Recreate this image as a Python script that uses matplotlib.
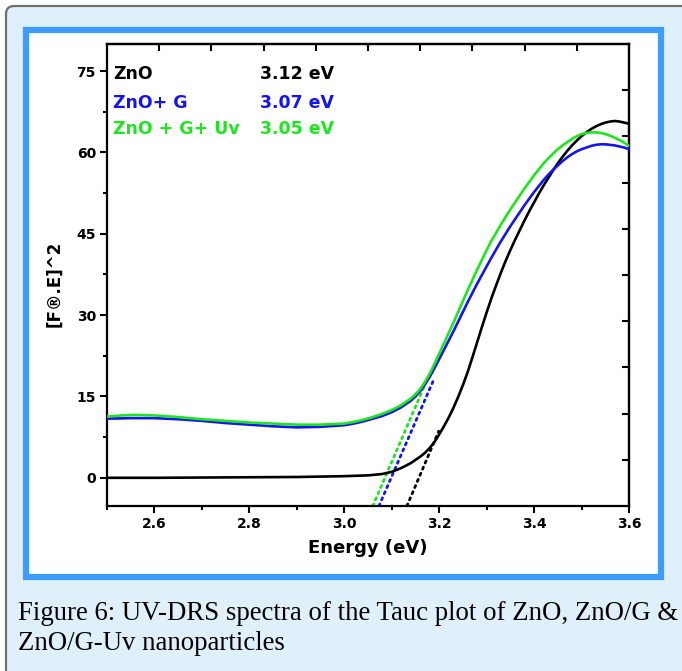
import matplotlib
matplotlib.use("Agg")
import matplotlib.pyplot as plt
from matplotlib.patches import FancyBboxPatch, Rectangle
import numpy as np

# ---------------- data ----------------
zno_x = [2.50, 2.60, 2.70, 2.80, 2.90, 3.00, 3.05, 3.08, 3.10, 3.12, 3.14, 3.16, 3.17,
         3.18, 3.19, 3.20, 3.21, 3.22, 3.23, 3.24, 3.25, 3.26, 3.27, 3.28, 3.29, 3.30,
         3.31, 3.32, 3.33, 3.34, 3.35, 3.36, 3.37, 3.38, 3.39, 3.40, 3.41, 3.42,
         3.43, 3.44, 3.45, 3.46, 3.47, 3.48, 3.49, 3.50, 3.51, 3.52, 3.53, 3.54,
         3.55, 3.56, 3.57, 3.58, 3.59, 3.60]
zno_y = [0.0, 0.0, 0.05, 0.1, 0.15, 0.3, 0.45, 0.7, 1.1, 1.8, 2.7, 3.9, 4.6,
         5.5, 6.6, 8.0, 9.5, 11.1, 12.9, 14.9, 17.1, 19.5, 22.2, 25.0, 27.8, 30.5,
         33.1, 35.5, 37.8, 40.0, 42.0, 43.9, 45.7, 47.5, 49.2, 50.8, 52.4, 53.9,
         55.3, 56.7, 58.0, 59.2, 60.3, 61.3, 62.2, 63.0, 63.7, 64.3, 64.8, 65.2,
         65.5, 65.7, 65.8, 65.7, 65.5, 65.3]

zng_x = [2.50, 2.55, 2.60, 2.65, 2.70, 2.75, 2.80, 2.85, 2.90, 2.95, 3.00, 3.02, 3.04,
         3.06, 3.08, 3.10, 3.12, 3.14, 3.15, 3.16, 3.17, 3.18, 3.19, 3.20, 3.21,
         3.22, 3.23, 3.24, 3.25, 3.26, 3.27, 3.28, 3.29, 3.30, 3.31, 3.32, 3.33,
         3.34, 3.35, 3.36, 3.37, 3.38, 3.39, 3.40, 3.41, 3.42, 3.43, 3.44, 3.45,
         3.46, 3.47, 3.48, 3.49, 3.50, 3.51, 3.52, 3.53, 3.54, 3.55, 3.56, 3.57,
         3.58, 3.59, 3.60]
zng_y = [10.9, 11.0, 11.0, 10.8, 10.5, 10.1, 9.8, 9.5, 9.3, 9.4, 9.7, 10.0, 10.4,
         10.9, 11.4, 12.1, 13.0, 14.2, 15.0, 16.0, 17.2, 18.6, 20.2, 21.9, 23.6,
         25.3, 27.0, 28.8, 30.6, 32.4, 34.1, 35.8, 37.4, 39.0, 40.6, 42.1, 43.6,
         45.0, 46.4, 47.7, 49.0, 50.3, 51.5, 52.7, 53.8, 54.9, 55.9, 56.8, 57.6,
         58.4, 59.1, 59.7, 60.2, 60.6, 60.9, 61.2, 61.4, 61.5, 61.5, 61.4, 61.3,
         61.1, 60.9, 60.6]

zngu_x = [2.50, 2.53, 2.56, 2.60, 2.65, 2.70, 2.75, 2.80, 2.85, 2.90, 2.95, 3.00, 3.02,
          3.04, 3.06, 3.08, 3.10, 3.12, 3.14, 3.15, 3.16, 3.17, 3.18, 3.19, 3.20,
          3.21, 3.22, 3.23, 3.24, 3.25, 3.26, 3.27, 3.28, 3.29, 3.30, 3.31, 3.32,
          3.33, 3.34, 3.35, 3.36, 3.37, 3.38, 3.39, 3.40, 3.41, 3.42, 3.43, 3.44,
          3.45, 3.46, 3.47, 3.48, 3.49, 3.50, 3.51, 3.52, 3.53, 3.54, 3.55, 3.56,
          3.57, 3.58, 3.59, 3.60]
zngu_y = [11.3, 11.5, 11.6, 11.5, 11.2, 10.8, 10.5, 10.2, 10.0, 9.8, 9.8, 10.0, 10.3,
          10.7, 11.2, 11.8, 12.5, 13.4, 14.6, 15.4, 16.4, 17.7, 19.2, 21.0, 22.9,
          24.8, 26.7, 28.6, 30.6, 32.6, 34.6, 36.5, 38.4, 40.2, 42.0, 43.7, 45.2,
          46.7, 48.1, 49.5, 50.8, 52.1, 53.4, 54.6, 55.8, 56.9, 58.0, 58.9, 59.8,
          60.6, 61.3, 61.9, 62.5, 63.0, 63.4, 63.6, 63.7, 63.7, 63.6, 63.4, 63.1,
          62.7, 62.3, 61.8, 61.2]

# tangent (extrapolation) lines: start/end points
tan_x0 = [3.132, 3.073, 3.060]
tan_y0 = [-5.2, -5.2, -5.2]
tan_x1 = [3.199, 3.188, 3.174]
tan_y1 = [8.6, 18.0, 18.0]

labels = ["ZnO", "ZnO+ G", "ZnO + G+ Uv"]
gaps = ["3.12 eV", "3.07 eV", "3.05 eV"]
colors = ["#000000", "#1414f0", "#1ee61e"]

xticks = [2.6, 2.8, 3.0, 3.2, 3.4, 3.6]
yticks = [0, 15, 30, 45, 60, 75]

caption_lines = ["Figure 6: UV-DRS spectra of the Tauc plot of ZnO, ZnO/G &",
                 "ZnO/G-Uv nanoparticles"]

# ---------------- figure ----------------
W, H = 682, 671
fig = plt.figure(figsize=(W / 100, H / 100), dpi=100)
fig.patch.set_facecolor("white")

# outer rounded box (extends past right and bottom edges)
outer = FancyBboxPatch((6 / W, -1.0), 2.0, 2.0 - 6 / H,
                       boxstyle="round,pad=0,rounding_size=0.012",
                       transform=fig.transFigure, facecolor="#e0f0fb",
                       edgecolor="#707070", linewidth=1.6, zorder=-3)
fig.patches.append(outer)
# blue framed white panel
frame = Rectangle((26 / W, (H - 577) / H), (661 - 26) / W, (577 - 30) / H,
                  transform=fig.transFigure, facecolor="white",
                  edgecolor="#3f9cff", linewidth=4.5, zorder=-2)
fig.patches.append(frame)

ax = fig.add_axes([107 / W, (H - 506) / H, 522 / W, 462 / H])
ax.set_facecolor("none")

x_lo, x_hi = 2.5, 3.6
y_lo, y_hi = -5.2, 80.0

for i in range(3):
    ax.plot([tan_x0[i], tan_x1[i]], [tan_y0[i], tan_y1[i]], color=colors[i],
            lw=2.0, linestyle=(0, (0.8, 1.6)), dash_capstyle="round", zorder=2)

for xs, ys, c in [(zno_x, zno_y, colors[0]), (zng_x, zng_y, colors[1]),
                  (zngu_x, zngu_y, colors[2])]:
    ax.plot(xs, ys, color=c, lw=1.9, solid_capstyle="round",
            solid_joinstyle="round", zorder=3)

ax.set_xlim(x_lo, x_hi)
ax.set_ylim(y_lo, y_hi)

ax.set_xticks(xticks)
ax.set_xticklabels([f"{v:.1f}" for v in xticks])
ax.set_xticks(np.arange(2.5, 3.6, 0.2), minor=True)
ax.set_yticks(yticks)
ax.set_yticklabels([str(v) for v in yticks])
ax.set_yticks(np.arange(7.5, 76, 15), minor=True)

ax.tick_params(axis="both", which="major", direction="out", length=5, width=1.5,
               labelsize=10, pad=3)
ax.tick_params(axis="both", which="minor", direction="out", length=3, width=1.5)
for lab in ax.get_xticklabels() + ax.get_yticklabels():
    lab.set_fontweight("bold")

for s in ax.spines.values():
    s.set_linewidth(1.6)

# top and right axes: 10 even divisions, inward ticks
top = ax.secondary_xaxis("top", functions=(lambda v: (v - x_lo) / (x_hi - x_lo) * 10,
                                           lambda t: x_lo + t / 10 * (x_hi - x_lo)))
top.set_xticks(range(1, 10))
top.tick_params(direction="in", length=5, width=1.5, labeltop=False)
top.spines["top"].set_linewidth(1.6)
right = ax.secondary_yaxis("right", functions=(lambda v: (v - y_lo) / (y_hi - y_lo) * 10,
                                               lambda t: y_lo + t / 10 * (y_hi - y_lo)))
right.set_yticks(range(1, 10))
right.tick_params(direction="in", length=5, width=1.5, labelright=False)
right.spines["right"].set_linewidth(1.6)

ax.set_xlabel("Energy (eV)", fontsize=13, fontweight="bold", labelpad=6)
ax.set_ylabel("[F\u00ae.E]^2", fontsize=12, fontweight="bold")
ax.yaxis.set_label_coords(-0.084, 0.48)

rows_y = [74.4, 69.2, 64.3]
for i in range(3):
    ax.text(2.513, rows_y[i], labels[i], color=colors[i], fontsize=12.5,
            fontweight="bold", va="center", ha="left")
    ax.text(2.822, rows_y[i], gaps[i], color=colors[i], fontsize=12.5,
            fontweight="bold", va="center", ha="left")

for k, line in enumerate(caption_lines):
    fig.text(18 / W, (H - 620 - 30 * k) / H, line, fontsize=19.3,
             family="Liberation Serif", ha="left", va="baseline")

fig.savefig("out.png", dpi=100)
